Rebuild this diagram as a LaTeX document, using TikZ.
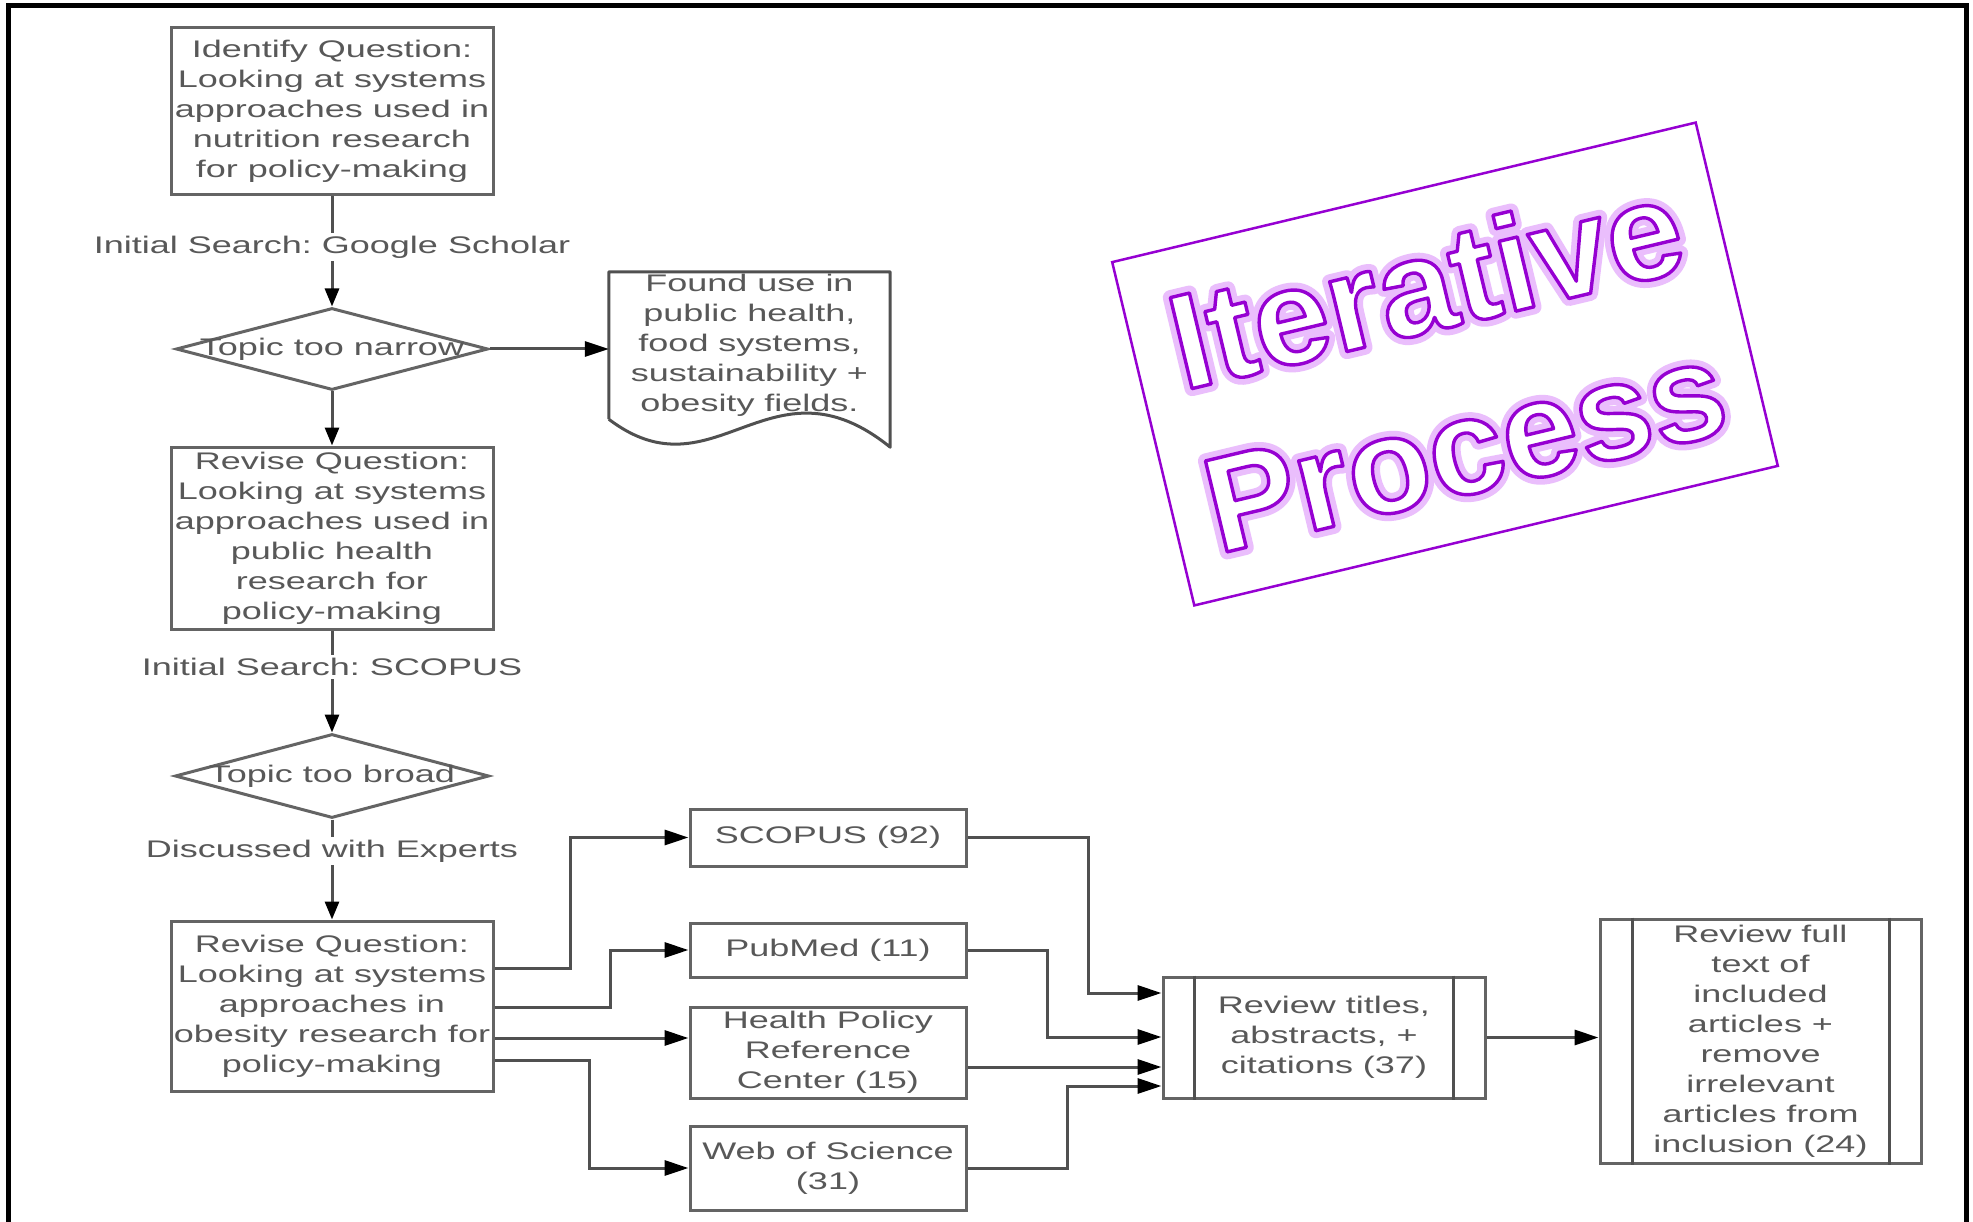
\documentclass[tikz,border=0pt]{standalone}
\usepackage{fontspec}
\usetikzlibrary{arrows.meta,shapes.geometric}
\frenchspacing
\newfontfamily\flowfont[FakeStretch=1.5]{Liberation Sans}
\newfontfamily\ipmain[FakeBold=2.5]{Liberation Sans Bold}
\newfontfamily\ipglow[FakeBold=11]{Liberation Sans Bold}
\newcommand\flowsize{\flowfont\fontsize{24}{30}\selectfont}
\definecolor{txtgray}{RGB}{88,88,88}
\definecolor{boxgray}{RGB}{100,100,100}
\definecolor{linegray}{RGB}{80,80,80}
\definecolor{ipviolet}{RGB}{150,0,210}
\definecolor{glowcol}{RGB}{234,190,252}
\newcommand\glowword[1]{%
  \rlap{\ipglow\color{glowcol}\pgfsetroundjoin#1}%
  {\ipmain\color{white}\pgfsetstrokecolor{ipviolet}\pgfsetroundjoin#1}}
\tikzset{
  flowbox/.style={draw=boxgray, line width=3pt, inner sep=0pt, font=\flowsize, text=txtgray, align=center},
  flowtext/.style={inner sep=0pt, font=\flowsize, text=txtgray, align=center},
  lbl/.style={fill=white, inner sep=3pt, font=\flowsize, text=txtgray},
  plain/.style={draw=linegray, line width=3pt},
  varrow/.style={draw=linegray, line width=3pt, -{Triangle[length=18pt,width=14pt,color=black]}},
  harrow/.style={draw=linegray, line width=3pt, -{Triangle[length=24pt,width=15pt,color=black]}},
  dia/.style={diamond, draw=boxgray, line width=3pt, inner sep=0pt},
}
\begin{document}
\begin{tikzpicture}[x=1pt,y=-1pt]
\useasboundingbox (0,0) rectangle (1973,1222);
\fill[white] (0,0) rectangle (1973,1222);
\draw[black, line width=5pt] (8.5,1240) -- (8.5,5.5) -- (1966.5,5.5) -- (1966.5,1240);

% left column
\node[flowbox, minimum width=322pt, minimum height=167pt] (b1) at (332,111.5)
  {Identify Question:\\Looking at systems\\approaches used in\\nutrition research\\for policy-making};
\node[lbl] (L1) at (332,247) {Initial Search: Google Scholar};
\node[dia, minimum width=312pt, minimum height=82pt] (d1) at (332,349) {};
\node[flowtext] (d1t) at (332,349) {Topic too narrow};
\node[flowtext, minimum width=281pt, minimum height=147pt] (doc) at (749.5,345.5)
  {Found use in\\public health,\\food systems,\\sustainability +\\obesity fields.};
\draw[plain, line join=round] (doc.south west) -- (doc.north west) -- (doc.north east) -- ([yshift=-28pt]doc.south east)
  .. controls (770,350) and (715,500) .. (doc.south west);
\node[flowbox, minimum width=322pt, minimum height=182pt] (b2) at (332,538)
  {Revise Question:\\Looking at systems\\approaches used in\\public health\\research for\\policy-making};
\node[lbl] (L2) at (332,667) {Initial Search: SCOPUS};
\node[dia, minimum width=314pt, minimum height=84pt] (d2) at (332,776) {};
\node[flowtext] (d2t) at (332,776) {Topic too broad};
\node[lbl] (L3) at (332,851) {Discussed with Experts};
\node[flowbox, minimum width=322pt, minimum height=170pt] (b3) at (332,1006)
  {Revise Question:\\Looking at systems\\approaches in\\obesity research for\\policy-making};

% sources
\node[flowbox, minimum width=276pt, minimum height=57pt] (s1) at (828,837.5) {SCOPUS (92)};
\node[flowbox, minimum width=276pt, minimum height=54pt] (s2) at (828,950) {PubMed (11)};
\node[flowbox, minimum width=276pt, minimum height=91pt] (s3) at (828,1052.5) {Health Policy\\Reference\\Center (15)};
\node[flowbox, minimum width=276pt, minimum height=84pt] (s4) at (828,1168) {Web of Science\\(31)};

% review boxes
\node[flowbox, minimum width=322pt, minimum height=121pt] (rt) at (1324,1037.5) {Review titles,\\abstracts, +\\citations (37)};
\draw[plain] ([xshift=33pt]rt.north west) -- ([xshift=33pt]rt.south west);
\draw[plain] ([xshift=-33pt]rt.north east) -- ([xshift=-33pt]rt.south east);
\node[flowbox, minimum width=321pt, minimum height=244pt] (rf) at (1760.5,1041)
  {Review full\\text of\\included\\articles +\\remove\\irrelevant\\articles from\\inclusion (24)};
\draw[plain] ([xshift=34pt]rf.north west) -- ([xshift=34pt]rf.south west);
\draw[plain] ([xshift=-33pt]rf.north east) -- ([xshift=-33pt]rf.south east);

% vertical flow
\draw[plain] (b1) -- (L1);
\draw[varrow] (L1) -- (d1);
\draw[harrow] (d1.east) -- (d1.east -| doc.west);
\draw[varrow] (d1) -- (b2);
\draw[plain] (b2) -- (L2);
\draw[varrow] (L2) -- (d2);
\draw[plain] (d2) -- (L3);
\draw[varrow] (L3) -- (b3);

% to sources
\draw[harrow] ([yshift=38pt]b3.east) -- ++(76,0) |- (s1.west);
\draw[harrow] ([yshift=-1pt]b3.east) -- ++(116,0) |- (s2.west);
\draw[harrow] ([yshift=-32pt]b3.east) -- ([yshift=-32pt]b3.east -| s3.west);
\draw[harrow] ([yshift=-54pt]b3.east) -- ++(95,0) |- (s4.west);

% to review
\draw[harrow] (s1.east) -- ++(121,0) |- ([yshift=44.5pt]rt.west);
\draw[harrow] (s2.east) -- ++(80,0) |- ([yshift=0.5pt]rt.west);
\draw[harrow] ([yshift=-14.5pt]s3.east) -- ([yshift=-14.5pt]s3.east -| rt.west);
\draw[harrow] (s4.east) -- ++(100,0) |- ([yshift=-48.5pt]rt.west);
\draw[harrow] (rt.east) -- (rt.east -| rf.west);

% iterative process
\node[draw=ipviolet, line width=2.5pt, minimum width=600pt, minimum height=353pt, inner sep=0pt,
  rotate=13.45, align=center, font=\fontsize{136}{167}\selectfont] (ip) at (1445,364)
  {\glowword{Iterative}\\\glowword{Process}};
\end{tikzpicture}
\end{document}
